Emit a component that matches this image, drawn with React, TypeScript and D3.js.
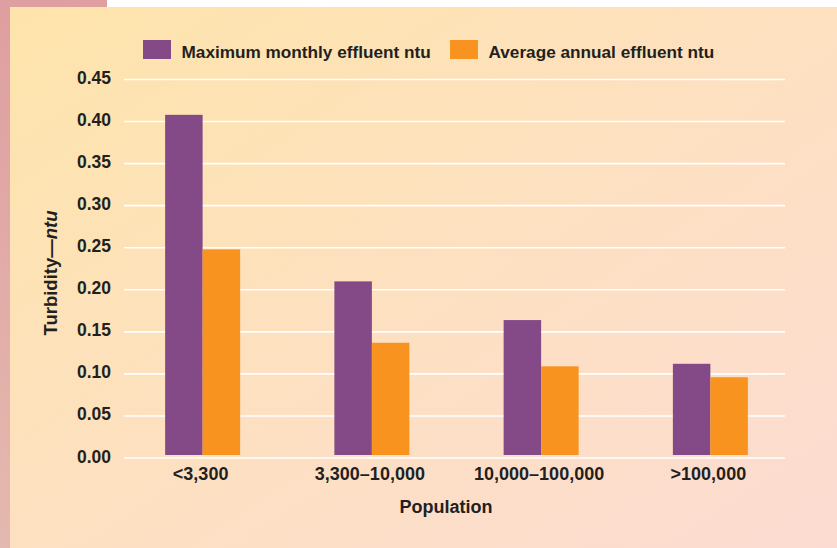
import React from "react";
import * as d3 from "d3";

// Treatment plant effluent turbidity by population served
const categories = ["<3,300", "3,300–10,000", "10,000–100,000", ">100,000"];
const seriesNames = ["Maximum monthly effluent ntu", "Average annual effluent ntu"];
const maxMonthly = [0.408, 0.21, 0.164, 0.112];
const avgAnnual = [0.248, 0.137, 0.109, 0.096];
const yTicks = [0, 0.05, 0.1, 0.15, 0.2, 0.25, 0.3, 0.35, 0.4, 0.45];

const W = 837;
const H = 548;
const COLORS = ["#834A87", "#F7931E"];
const TEXT = "#231F20";
const FONT = "'Liberation Sans', Arial, Helvetica, sans-serif";

export default function App() {
  const plotLeft = 124;
  const plotRight = 785;
  const y = d3.scaleLinear().domain([0, 0.45]).range([458, 79.5]);
  const x = d3.scaleBand<string>().domain(categories).range([118, 795]).padding(0);
  const barW = 37.5;

  const series = [maxMonthly, avgAnnual];

  return (
    <svg
      width={W}
      height={H}
      viewBox={`0 0 ${W} ${H}`}
      style={{ position: "absolute", left: 0, top: 0, display: "block" }}
      fontFamily={FONT}
    >
      <defs>
        <linearGradient id="panelBg" x1="0" y1="0" x2="1" y2="1">
          <stop offset="0" stopColor="#FEE4AB" />
          <stop offset="0.55" stopColor="#FDE0C2" />
          <stop offset="1" stopColor="#FCDBD2" />
        </linearGradient>
        <linearGradient id="edgeBg" x1="0" y1="0" x2="0" y2="1">
          <stop offset="0" stopColor="#DF9EA0" />
          <stop offset="1" stopColor="#E4B9AF" />
        </linearGradient>
      </defs>

      {/* page frame */}
      <rect x={0} y={0} width={W} height={H} fill="#FFFFFF" />
      <rect x={0} y={0} width={107} height={8} fill="#DF9EA0" />
      <rect x={0} y={0} width={10} height={H} fill="url(#edgeBg)" />
      <rect x={10} y={7} width={W - 10} height={H - 7} fill="url(#panelBg)" />

      {/* gridlines */}
      <g>
        {yTicks.map((t) => (
          <line
            key={t}
            x1={plotLeft}
            x2={plotRight}
            y1={y(t)}
            y2={y(t)}
            stroke="#FFFFFF"
            strokeWidth={1.6}
          />
        ))}
      </g>

      {/* bars */}
      <g>
        {categories.map((c, i) => {
          const cx = (x(c) ?? 0) + x.bandwidth() / 2;
          return series.map((vals, s) => (
            <rect
              key={`${c}-${s}`}
              x={cx - barW + s * barW}
              y={y(vals[i])}
              width={barW}
              height={y(0) - 3 - y(vals[i])}
              fill={COLORS[s]}
            />
          ));
        })}
      </g>

      {/* y tick labels */}
      <g fontSize={17.5} fontWeight="bold" fill={TEXT} textAnchor="end">
        {yTicks.map((t) => (
          <text key={t} x={111} y={y(t) + 4.5}>
            {d3.format(".2f")(t)}
          </text>
        ))}
      </g>

      {/* x category labels */}
      <g fontSize={18} fontWeight="bold" fill={TEXT} textAnchor="middle">
        {categories.map((c) => (
          <text key={c} x={(x(c) ?? 0) + x.bandwidth() / 2 - 2} y={479.5}>
            {c}
          </text>
        ))}
      </g>

      {/* axis titles */}
      <text
        x={446}
        y={512.5}
        fontSize={18}
        fontWeight="bold"
        fill={TEXT}
        textAnchor="middle"
      >
        Population
      </text>
      <text
        transform="translate(57,273) rotate(-90)"
        fontSize={18.5}
        fontWeight="bold"
        fill={TEXT}
        textAnchor="middle"
      >
        Turbidity—<tspan fontStyle="italic">ntu</tspan>
      </text>

      {/* legend */}
      <g fontSize={17.2} fontWeight="bold" fill={TEXT}>
        {seriesNames.map((name, i) => {
          const lx = i === 0 ? 143 : 450;
          return (
            <g key={name} transform={`translate(${lx},40)`}>
              <rect x={0} y={0} width={28} height={19} fill={COLORS[i]} />
              <text x={38.5} y={18}>
                {name}
              </text>
            </g>
          );
        })}
      </g>
    </svg>
  );
}
